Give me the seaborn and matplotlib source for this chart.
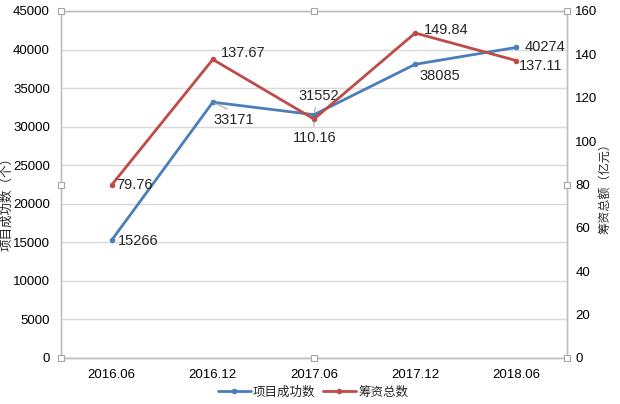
import numpy as np
import pandas as pd
import matplotlib
matplotlib.use('Agg')
import matplotlib.pyplot as plt
import seaborn as sns
from matplotlib.lines import Line2D

sns.set_theme(style='white')
plt.rcParams['font.family'] = ['Liberation Sans', 'Noto Sans CJK SC']
plt.rcParams['axes.unicode_minus'] = False

# data
periods = ['2016.06', '2016.12', '2017.06', '2017.12', '2018.06']
projects = [15266, 33171, 31552, 38085, 40274]
funding = [79.76, 137.67, 110.16, 149.84, 137.11]

blue = '#4A7EBB'
red = '#BE4B48'
grey_spine = '#BFBFBF'
grey_grid = '#D9D9D9'

df = pd.DataFrame({'period': periods, 'projects': projects, 'funding': funding})
df['x'] = np.arange(len(periods))

fig = plt.figure(figsize=(6.2, 4.04), dpi=100)
ax = fig.add_axes([0.0984, 0.1139, 0.8161, 0.8589])
ax2 = ax.twinx()

sns.lineplot(data=df, x='x', y='projects', ax=ax, color=blue, lw=2,
             marker='o', markersize=4, markeredgewidth=0, zorder=3)
sns.lineplot(data=df, x='x', y='funding', ax=ax2, color=red, lw=2,
             marker='o', markersize=4, markeredgewidth=0, zorder=3)

ax.set_xlim(-0.5, len(periods) - 0.5)
ax.set_ylim(0, 45000)
ax.set_yticks(np.arange(0, 45001, 5000))
ax2.set_ylim(0, 160)
ax2.set_yticks(np.arange(0, 161, 20))
ax.set_xticks(df['x'])
ax.set_xticklabels(periods)

ax.grid(axis='y', color=grey_grid, lw=1)
ax.set_axisbelow(True)
for a in (ax, ax2):
    for s in a.spines.values():
        s.set_color(grey_spine)
        s.set_linewidth(1)
    a.tick_params(length=0, labelsize=9.5, colors='#000000')
ax.tick_params(axis='y', pad=8)
ax.tick_params(axis='x', pad=8)
ax2.tick_params(axis='y', pad=6)

ax.set_xlabel('')
ax.set_ylabel('')
ax2.set_ylabel('')
fig.text(7 / 620, 1 - 201 / 404, '项目成功数（个）', rotation=90, ha='center', va='center',
         fontsize=9)
fig.text(605 / 620, 1 - 186 / 404, '筹资总额（亿元）', rotation=90, ha='center', va='center',
         fontsize=8.7)

# data labels (offsets in pixels)
kw = dict(textcoords='offset pixels', fontsize=10.5, va='center')
proj_off = [(6, -1, 'left'), (1, -18, 'left'), (5, 19, 'center'), (4, -12, 'left'), (8, 0, 'left')]
fund_off = [(5, 0, 'left'), (8, 6, 'left'), (1, -19, 'center'), (9, 3, 'left'), (2, -5, 'left')]
for i, (dx, dy, ha) in enumerate(proj_off):
    ax.annotate(str(projects[i]), (i, projects[i]), xytext=(dx, dy), ha=ha, **kw)
for i, (dx, dy, ha) in enumerate(fund_off):
    ax2.annotate(f'{funding[i]:.2f}', (i, funding[i]), xytext=(dx, dy), ha=ha, **kw)

# leader lines
ax.annotate('', (1, projects[1]), xytext=(17, -8), textcoords='offset pixels',
            arrowprops=dict(arrowstyle='-', color='#A6A6A6', lw=0.8))
ax.annotate('', (2, projects[2]), xytext=(2, 10), textcoords='offset pixels',
            arrowprops=dict(arrowstyle='-', color='#A6A6A6', lw=0.8))
ax2.annotate('', (2, funding[2]), xytext=(0, -10), textcoords='offset pixels',
             arrowprops=dict(arrowstyle='-', color='#A6A6A6', lw=0.8))

handles = [Line2D([], [], color=blue, lw=2, marker='o', markersize=4, markeredgewidth=0),
           Line2D([], [], color=red, lw=2, marker='o', markersize=4, markeredgewidth=0)]
fig.legend(handles, ['项目成功数', '筹资总数'], loc='center', bbox_to_anchor=(0.505, 0.028),
           ncol=2, frameon=False, fontsize=9, handlelength=2.6, handletextpad=0.2,
           columnspacing=0.6)

# small selection handles on the plot frame
hx = [0.0984, 0.5065, 0.9145]
hy = [0.1139, 0.5433, 0.9728]
for x in hx:
    for y in hy:
        if x == 0.5065 and y == 0.5433:
            continue
        fig.add_artist(Line2D([x], [y], transform=fig.transFigure, marker='s',
                              markersize=4, markerfacecolor='white',
                              markeredgecolor='#A6A6A6', markeredgewidth=0.8))

fig.savefig('out.png', dpi=100)
